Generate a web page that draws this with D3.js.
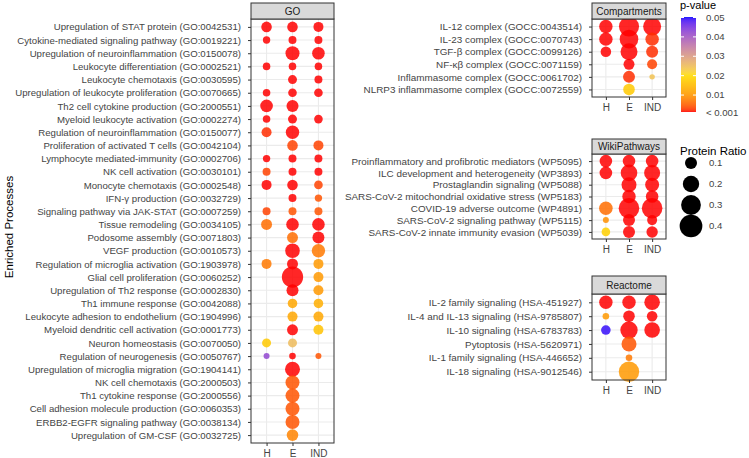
<!DOCTYPE html>
<html><head><meta charset="utf-8">
<script src="https://cdn.jsdelivr.net/npm/d3@7"></script>
<style>body{margin:0;background:#fff}svg{display:block}text{font-family:"Liberation Sans",Arial,sans-serif}</style>
</head><body><svg id="c" width="749" height="458"></svg>
<script>
const groups = ["H", "E", "IND"];

// ---------- GO ----------
const goTerms = [
  "Upregulation of STAT protein (GO:0042531)",
  "Cytokine-mediated signaling pathway (GO:0019221)",
  "Upregulation of neuroinflammation (GO:0150078)",
  "Leukocyte differentiation (GO:0002521)",
  "Leukocyte chemotaxis (GO:0030595)",
  "Upregulation of leukocyte proliferation (GO:0070665)",
  "Th2 cell cytokine production (GO:2000551)",
  "Myeloid leukocyte activation (GO:0002274)",
  "Regulation of neuroinflammation (GO:0150077)",
  "Proliferation of activated T cells (GO:0042104)",
  "Lymphocyte mediated-immunity (GO:0002706)",
  "NK cell activation (GO:0030101)",
  "Monocyte chemotaxis (GO:0002548)",
  "IFN-γ production (GO:0032729)",
  "Signaling pathway via JAK-STAT (GO:0007259)",
  "Tissue remodeling (GO:0034105)",
  "Podosome assembly (GO:0071803)",
  "VEGF production (GO:0010573)",
  "Regulation of microglia activation (GO:1903978)",
  "Glial cell proliferation  (GO:0060252)",
  "Upregulation of Th2 response (GO:0002830)",
  "Th1 immune response (GO:0042088)",
  "Leukocyte adhesion to endothelium (GO:1904996)",
  "Myeloid dendritic cell activation (GO:0001773)",
  "Neuron homeostasis (GO:0070050)",
  "Regulation of neurogenesis (GO:0050767)",
  "Upregulation of microglia migration (GO:1904141)",
  "NK cell chemotaxis (GO:2000503)",
  "Th1 cytokine response (GO:2000556)",
  "Cell adhesion molecule production  (GO:0060353)",
  "ERBB2-EGFR signaling pathway (GO:0038134)",
  "Upregulation of GM-CSF (GO:0032725)"
];
const goRatioH   = [0.074,0.028,null,0.030,null,0.030,0.112,0.030,0.065,null,0.028,0.035,0.065,null,0.035,0.081,null,null,0.065,null,null,null,null,null,0.049,0.013,null,null,null,null,null,null];
const goRatioE   = [0.074,0.035,0.142,0.030,0.049,0.044,0.100,0.049,0.129,0.074,0.035,0.035,0.074,0.035,0.035,0.112,0.081,0.156,0.081,0.350,0.100,0.058,0.065,0.081,0.049,0.019,0.165,0.142,0.142,0.142,0.142,0.092];
const goRatioIND = [0.065,0.035,0.112,0.030,0.035,0.044,null,0.044,null,0.065,0.035,0.035,0.044,0.028,0.035,0.112,0.100,0.129,0.065,0.065,0.065,0.058,0.065,0.065,null,0.013,null,null,null,null,null,null];
const goPH   = [0.001,0.001,null,0.001,null,0.001,0.001,0.001,0.002,null,0.001,0.003,0.001,null,0.003,0.006,null,null,0.007,null,null,null,null,null,0.017,0.042,null,null,null,null,null,null];
const goPE   = [0.001,0.001,0.001,0.001,0.001,0.001,0.001,0.001,0.001,0.003,0.001,0.001,0.001,0.001,0.004,0.001,0.006,0.001,0.001,0.001,0.001,0.012,0.012,0.001,0.025,0.001,0.001,0.004,0.004,0.004,0.004,0.008];
const goPIND = [0.001,0.001,0.001,0.001,0.001,0.001,null,0.001,null,0.003,0.001,0.001,0.003,0.004,0.004,0.001,0.001,0.007,0.010,0.010,0.010,0.013,0.012,0.016,null,0.004,null,null,null,null,null,null];

// ---------- Compartments ----------
const compTerms = [
  "IL-12 complex (GOCC:0043514)",
  "IL-23 complex (GOCC:0070743)",
  "TGF-β complex (GOCC:0099126)",
  "NF-κβ complex (GOCC:0071159)",
  "Inflammasome complex (GOCC:0061702)",
  "NLRP3 inflammasome complex (GOCC:0072559)"
];
const compRatioH   = [0.129,0.129,0.074,null,null,null];
const compRatioE   = [0.310,0.263,0.217,0.081,0.100,0.092];
const compRatioIND = [0.245,0.129,0.100,0.065,0.008,null];
const compPH   = [0.001,0.001,0.001,null,null,null];
const compPE   = [0.001,0.001,0.001,0.001,0.002,0.017];
const compPIND = [0.001,0.002,0.002,0.003,0.024,null];

// ---------- WikiPathways ----------
const wikiTerms = [
  "Proinflammatory and profibrotic mediators (WP5095)",
  "ILC development and heterogeneity (WP3893)",
  "Prostaglandin signaling (WP5088)",
  "SARS-CoV-2 mitochondrial oxidative stress (WP5183)",
  "COVID-19 adverse outcome (WP4891)",
  "SARS-CoV-2 signaling pathway (WP5115)",
  "SARS-CoV-2 innate immunity evasion (WP5039)"
];
const wikiRatioH   = [0.112,0.112,null,null,0.133,0.013,0.044];
const wikiRatioE   = [0.112,0.206,0.165,0.129,0.326,0.100,0.100];
const wikiRatioIND = [0.112,0.190,0.142,0.112,0.326,0.065,0.089];
const wikiPH   = [0.001,0.001,null,null,0.006,0.009,0.018];
const wikiPE   = [0.001,0.001,0.001,0.001,0.001,0.001,0.001];
const wikiPIND = [0.001,0.001,0.001,0.001,0.001,0.001,0.001];

// ---------- Reactome ----------
const reacTerms = [
  "IL-2 family signaling (HSA-451927)",
  "IL-4 and IL-13 signaling (HSA-9785807)",
  "IL-10 signaling (HSA-6783783)",
  "Pytoptosis (HSA-5620971)",
  "IL-1 family signaling (HSA-446652)",
  "IL-18 signaling (HSA-9012546)"
];
const reacRatioH   = [0.129,0.019,0.058,null,null,null];
const reacRatioE   = [0.129,0.092,0.228,0.165,0.019,0.320];
const reacRatioIND = [0.180,0.074,0.180,null,null,null];
const reacPH   = [0.001,0.010,0.049,null,null,null];
const reacPE   = [0.001,0.001,0.001,0.004,0.007,0.010];
const reacPIND = [0.001,0.001,0.001,null,null,null];

// ---------- legends ----------
const pTicks = [0.05, 0.04, 0.03, 0.02, 0.01, 0.001];
const pTickLabels = ["0.05", "0.04", "0.03", "0.02", "0.01", "< 0.001"];
const ratioLegend = [0.1, 0.2, 0.3, 0.4];

// ---------- scales ----------
const colorScale = d3.scaleLinear()
  .domain([0.001, 0.01, 0.02, 0.05])
  .range(["#ff0000", "#ff9900", "#ffdd00", "#0000ff"])
  .interpolate(d3.interpolateLab)
  .clamp(true);
const areaScale = d3.scaleLinear().domain([0, 0.4]).range([5, 129]);
const rad = v => Math.sqrt(areaScale(v));

const svg = d3.select("#c");
const TXT = "#444";
const FONT = '"Liberation Sans",Arial,sans-serif';

function panel(cfg) {
  const {title, terms, rH, rE, rIND, pH, pE, pIND, x0, x1, stripTop, y0, y1, fs} = cfg;
  const x = d3.scalePoint().domain(groups).range([x0, x1]).padding(0.6);
  const y = d3.scalePoint().domain(terms).range([y0, y1]).padding(0.6);
  const g = svg.append("g");
  g.append("rect").attr("x", x0).attr("y", y0).attr("width", x1 - x0).attr("height", y1 - y0).attr("fill", "#fff");
  g.selectAll(".gx").data(groups).join("line")
    .attr("x1", d => x(d)).attr("x2", d => x(d)).attr("y1", y0).attr("y2", y1)
    .attr("stroke", "#ebebeb").attr("stroke-width", 1.1);
  g.selectAll(".gy").data(terms).join("line")
    .attr("x1", x0).attr("x2", x1).attr("y1", d => y(d)).attr("y2", d => y(d))
    .attr("stroke", "#ebebeb").attr("stroke-width", 1.1);
  const ratios = {H: rH, E: rE, IND: rIND};
  const ps = {H: pH, E: pE, IND: pIND};
  const pts = [];
  terms.forEach((t, i) => groups.forEach(gr => {
    if (ratios[gr][i] != null) pts.push({t, gr, r: ratios[gr][i], p: ps[gr][i]});
  }));
  g.append("g").selectAll("circle").data(pts).join("circle")
    .attr("cx", d => x(d.gr)).attr("cy", d => y(d.t)).attr("r", d => rad(d.r))
    .attr("fill", d => colorScale(d.p)).attr("fill-opacity", 0.85);
  g.append("rect").attr("x", x0).attr("y", y0).attr("width", x1 - x0).attr("height", y1 - y0)
    .attr("fill", "none").attr("stroke", "#333").attr("stroke-width", 1);
  g.append("rect").attr("x", x0).attr("y", stripTop).attr("width", x1 - x0).attr("height", y0 - stripTop)
    .attr("fill", "#d9d9d9").attr("stroke", "#333").attr("stroke-width", 1);
  g.append("text").attr("x", (x0 + x1) / 2).attr("y", (stripTop + y0) / 2).attr("dy", "0.35em")
    .attr("text-anchor", "middle").attr("font-size", 10).attr("fill", "#1a1a1a").text(title);
  const ay = g.append("g").attr("transform", `translate(${x0},0)`)
    .call(d3.axisLeft(y).tickSize(3).tickPadding(7));
  ay.select(".domain").remove();
  ay.selectAll(".tick line").attr("stroke", "#333");
  ay.selectAll(".tick text").attr("font-size", fs).attr("fill", TXT).style("font-family", FONT);
  const ax = g.append("g").attr("transform", `translate(0,${y1})`)
    .call(d3.axisBottom(x).tickSize(3).tickPadding(4));
  ax.select(".domain").remove();
  ax.selectAll(".tick line").attr("stroke", "#333");
  ax.selectAll(".tick text").attr("font-size", 10).attr("fill", TXT).style("font-family", FONT);
}

panel({title: "GO", terms: goTerms, rH: goRatioH, rE: goRatioE, rIND: goRatioIND,
  pH: goPH, pE: goPE, pIND: goPIND, x0: 251, x1: 334, stripTop: 3, y0: 19, y1: 443, fs: 9.65});
panel({title: "Compartments", terms: compTerms, rH: compRatioH, rE: compRatioE, rIND: compRatioIND,
  pH: compPH, pE: compPE, pIND: compPIND, x0: 592, x1: 666, stripTop: 3, y0: 19, y1: 97, fs: 9.9});
panel({title: "WikiPathways", terms: wikiTerms, rH: wikiRatioH, rE: wikiRatioE, rIND: wikiRatioIND,
  pH: wikiPH, pE: wikiPE, pIND: wikiPIND, x0: 592, x1: 666, stripTop: 139, y0: 154, y1: 239, fs: 9.9});
panel({title: "Reactome", terms: reacTerms, rH: reacRatioH, rE: reacRatioE, rIND: reacRatioIND,
  pH: reacPH, pE: reacPE, pIND: reacPIND, x0: 592, x1: 666, stripTop: 276, y0: 294, y1: 380, fs: 9.9});

svg.append("text").attr("transform", "translate(9,227) rotate(-90)")
  .attr("text-anchor", "middle").attr("dy", "0.35em").attr("font-size", 11.5).attr("fill", "#000")
  .text("Enriched Processes");

// p-value colorbar
const cb = {x: 681, w: 15};
const pY = d3.scaleLinear().domain([0.001, 0.05]).range([112, 17]);
svg.append("text").attr("x", 680).attr("y", 9).attr("font-size", 11).attr("fill", "#000").text("p-value");
const defs = svg.append("defs");
const grad = defs.append("linearGradient").attr("id", "pg").attr("x1", 0).attr("y1", 1).attr("x2", 0).attr("y2", 0);
d3.range(0, 1.0001, 0.02).forEach(t => {
  const p = 0.001 + t * 0.049;
  grad.append("stop").attr("offset", t).attr("stop-color", colorScale(p)).attr("stop-opacity", 0.9);
});
svg.append("rect").attr("x", cb.x).attr("y", pY(0.05)).attr("width", cb.w).attr("height", pY(0.001) - pY(0.05))
  .attr("fill", "url(#pg)");
const cbAxis = svg.append("g").attr("transform", `translate(${cb.x + cb.w},0)`)
  .call(d3.axisRight(pY).tickValues(pTicks).tickSize(0).tickPadding(10)
    .tickFormat((d, i) => pTickLabels[i]));
cbAxis.select(".domain").remove();
cbAxis.selectAll(".tick text").attr("font-size", 9.6).attr("fill", TXT).style("font-family", FONT);
cbAxis.selectAll(".tick").append("line").attr("x1", -cb.w).attr("x2", -cb.w + 3).attr("stroke", "#fff");
cbAxis.selectAll(".tick").append("line").attr("x1", -3).attr("x2", 0).attr("stroke", "#fff");

// Protein Ratio legend
svg.append("text").attr("x", 680).attr("y", 155).attr("font-size", 11.5).attr("fill", "#000").text("Protein Ratio");
const legY = d3.scalePoint().domain(ratioLegend).range([163, 226]);
const lg = svg.append("g");
lg.selectAll("circle").data(ratioLegend).join("circle")
  .attr("cx", 691).attr("cy", d => legY(d)).attr("r", d => rad(d)).attr("fill", "#000");
lg.selectAll("text").data(ratioLegend).join("text")
  .attr("x", 709).attr("y", d => legY(d)).attr("dy", "0.35em")
  .attr("font-size", 9.6).attr("fill", TXT).text(d => d3.format(".1f")(d));
</script></body></html>
